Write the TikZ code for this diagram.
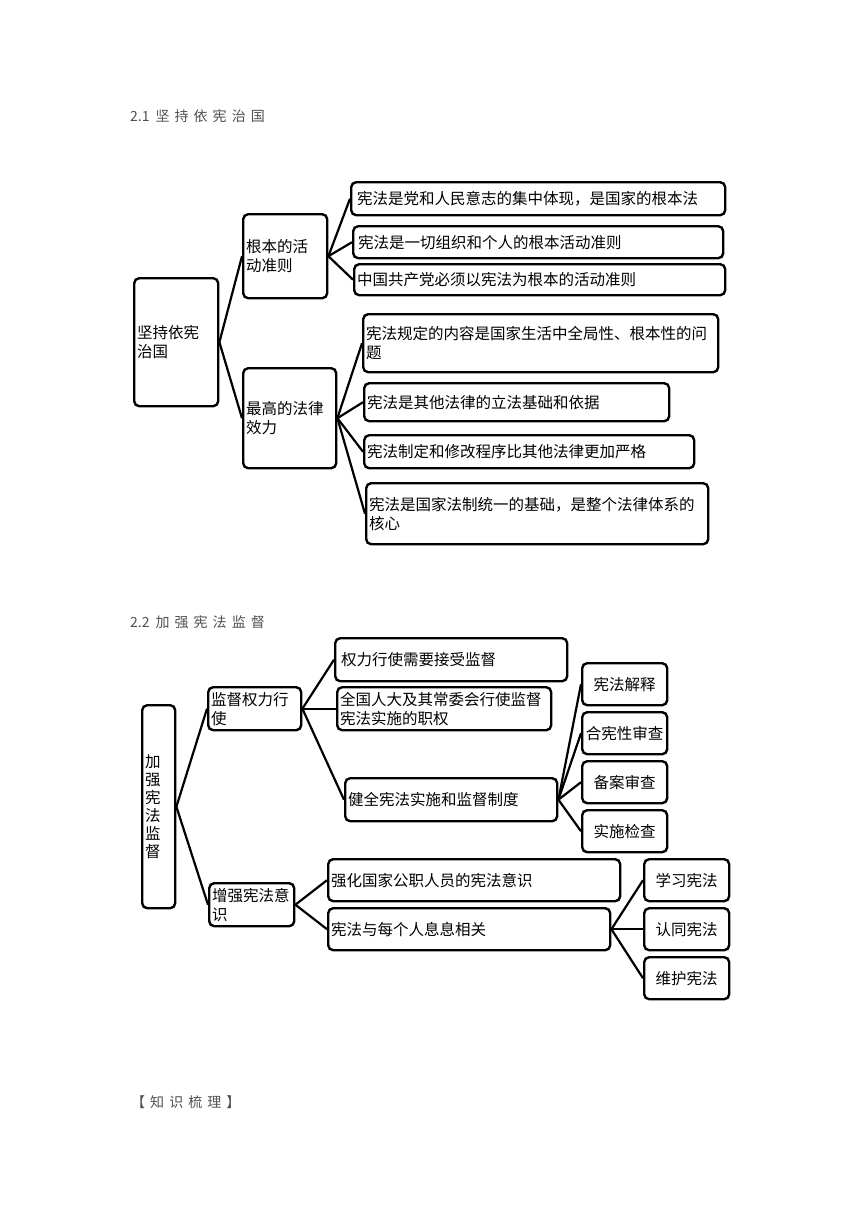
\documentclass[tikz,border=0pt]{standalone}
\usepackage{fontspec}
\setmainfont{Noto Sans CJK SC}
\newfontfamily\titlefont[LetterSpace=36]{Noto Sans CJK SC}
\definecolor{titlegray}{RGB}{80,80,80}
\usetikzlibrary{positioning}
\tikzset{
    mapbox/.style={draw, line width=2.4pt, rounded corners=5pt, anchor=north west,
        align=left, inner xsep=3pt, inner ysep=2pt},
    midbox/.style={mapbox, align=center, text width=79pt, minimum height=42pt},
    link/.style={line width=2.2pt},
    sectitle/.style={anchor=west, inner sep=0pt, text=titlegray,
        font=\fontsize{14}{16}\selectfont}
}

\begin{document}
\begin{tikzpicture}[x=1pt, y=-1pt, every node/.style={font=\fontsize{15.5}{19}\selectfont}]
    \useasboundingbox (0,0) rectangle (860,1216);

    % 2.1
    \node[sectitle] (sec1) at (130,116) {2.1\hspace{6pt}{\titlefont 坚持依宪治国}};
    \node[mapbox, text width=78pt, minimum height=128pt] (jianchi) at (133,277) {坚持依宪\\治国};
    \node[mapbox, text width=78pt, minimum height=84pt] (genben) at (242,213) {根本的活\\动准则};
    \node[mapbox, text width=87pt, minimum height=100pt] (zuigao) at (242,367) {最高的法律\\效力};

    \node[mapbox, inner xsep=6pt, text width=362pt, minimum height=33pt] (gb1) at (350,181) {宪法是党和人民意志的集中体现，是国家的根本法};
    \node[mapbox, inner xsep=5pt, text width=360pt, minimum height=32pt] (gb2) at (352,225) {宪法是一切组织和个人的根本活动准则};
    \node[mapbox, text width=365pt, minimum height=31pt] (gb3) at (353,263) {中国共产党必须以宪法为根本的活动准则};

    \node[mapbox, text width=349pt, minimum height=58pt] (zg1) at (362,313) {宪法规定的内容是国家生活中全局性、根本性的问\\题};
    \node[mapbox, text width=299pt, minimum height=38pt] (zg2) at (363,382) {宪法是其他法律的立法基础和依据};
    \node[mapbox, text width=324pt, minimum height=33pt] (zg3) at (363,434) {宪法制定和修改程序比其他法律更加严格};
    \node[mapbox, text width=336pt, minimum height=61pt] (zg4) at (365,482) {宪法是国家法制统一的基础，是整个法律体系的\\核心};

    \draw[link] (jianchi.east) -- (genben.west);
    \draw[link] (jianchi.east) -- (zuigao.west);
    \foreach \n in {gb1,gb2,gb3}
        \draw[link] (genben.east) -- (\n.west);
    \foreach \n in {zg1,zg2,zg3,zg4}
        \draw[link] (zuigao.east) -- (\n.west);

    % 2.2
    \node[sectitle] (sec2) at (130,622) {2.2\hspace{6pt}{\titlefont 加强宪法监督}};
    \node[mapbox, text width=27pt, minimum height=203pt, font=\fontsize{15.5}{18}\selectfont] (jiaqiang) at (141,704) {加\\强\\宪\\法\\监\\督};
    \node[mapbox, text width=87pt, minimum height=43pt] (jiandu) at (207,686) {监督权力行\\使};
    \node[mapbox, text width=79pt, minimum height=43pt] (zengqiang) at (208,882) {增强宪法意\\识};

    \node[mapbox, inner xsep=6pt, text width=220pt, minimum height=43pt] (jd1) at (334,637) {权力行使需要接受监督};
    \node[mapbox, text width=208pt, minimum height=43pt] (jd2) at (336,686) {全国人大及其常委会行使监督\\宪法实施的职权};
    \node[mapbox, text width=206pt, minimum height=43pt] (jd3) at (344,777) {健全宪法实施和监督制度};
    \foreach \y/\name/\txt in {662/zd1/宪法解释, 711/zd2/合宪性审查, 760/zd3/备案审查, 809/zd4/实施检查}
        \node[midbox] (\name) at (581,\y) {\txt};

    \node[mapbox, text width=286pt, minimum height=42pt] (zq1) at (327,858) {强化国家公职人员的宪法意识};
    \node[mapbox, text width=276pt, minimum height=42pt] (zq2) at (327,907) {宪法与每个人息息相关};
    \foreach \y/\name/\txt in {858/xf1/学习宪法, 907/xf2/认同宪法, 956/xf3/维护宪法}
        \node[midbox] (\name) at (643,\y) {\txt};

    \draw[link] (jiaqiang.east) -- (jiandu.west);
    \draw[link] (jiaqiang.east) -- (zengqiang.west);
    \foreach \n in {jd1,jd2,jd3}
        \draw[link] (jiandu.east) -- (\n.west);
    \foreach \n in {zd1,zd2,zd3,zd4}
        \draw[link] (jd3.east) -- (\n.west);
    \foreach \n in {zq1,zq2}
        \draw[link] (zengqiang.east) -- (\n.west);
    \foreach \n in {xf1,xf2,xf3}
        \draw[link] (zq2.east) -- (\n.west);

    \node[sectitle, font=\titlefont\fontsize{14}{16}\selectfont] (sec3) at (131,1102) {【知识梳理】};
\end{tikzpicture}
\end{document}
